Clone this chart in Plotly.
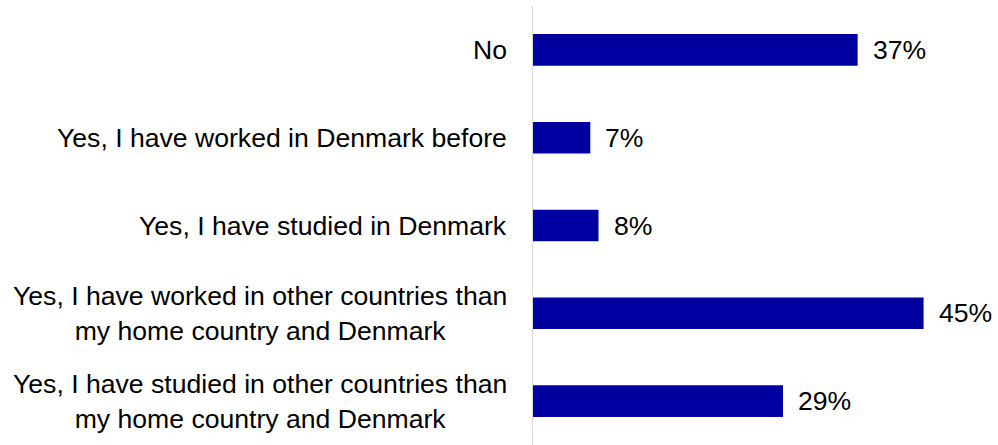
import plotly.graph_objects as go

categories = [
    "No",
    "Yes, I have worked in Denmark before",
    "Yes, I have studied in Denmark",
    "Yes, I have worked in other countries than<br>my home country and Denmark",
    "Yes, I have studied in other countries than<br>my home country and Denmark",
]
values = [37.4, 6.6, 7.55, 45.0, 28.8]
value_labels = ["37%", "7%", "8%", "45%", "29%"]

FONT = "Liberation Sans, Arial, sans-serif"
FS = 26.6
BAR = "#0000A0"

fig = go.Figure()
fig.add_trace(go.Bar(
    y=list(range(len(categories))),
    x=values,
    orientation="h",
    width=0.36,
    marker=dict(color=BAR, line=dict(width=0)),
    hoverinfo="skip",
))

annotations = []
for i, (cat, v, lab) in enumerate(zip(categories, values, value_labels)):
    annotations.append(dict(
        x=0, xref="paper", y=i, yref="y",
        text=cat, showarrow=False, xanchor="right", yanchor="middle",
        align="center", xshift=-24,
        font=dict(family=FONT, size=FS, color="#000000"),
    ))
    annotations.append(dict(
        x=v, xref="x", y=i, yref="y",
        text=lab, showarrow=False, xanchor="left", yanchor="middle",
        xshift=13,
        font=dict(family=FONT, size=FS, color="#000000"),
    ))

fig.update_layout(
    width=998, height=445,
    margin=dict(l=533, r=31, t=6, b=0),
    paper_bgcolor="white", plot_bgcolor="white",
    showlegend=False,
    bargap=0.64,
    xaxis=dict(range=[0, 50], visible=False, fixedrange=True),
    yaxis=dict(range=[len(categories) - 0.5, -0.5], showticklabels=False,
               showgrid=False, zeroline=False, showline=True,
               linecolor="#d9d9d9", linewidth=1.5, ticks="", fixedrange=True),
    annotations=annotations,
)

fig.write_html("out.html",
               config={"displayModeBar": False, "staticPlot": True},
               post_script="document.body.style.margin='0px';document.body.style.overflow='hidden';")
